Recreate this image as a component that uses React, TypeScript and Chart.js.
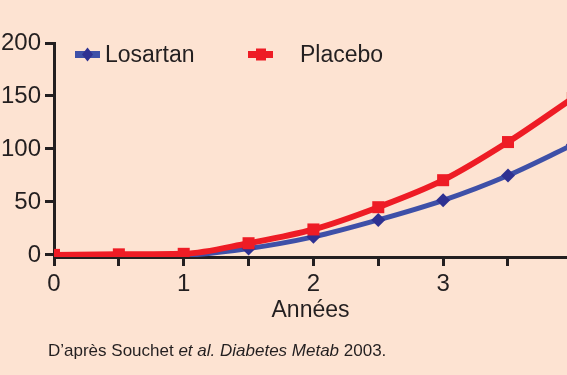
import React, { useEffect, useRef } from "react";
import { Chart, registerables } from "chart.js";

Chart.register(...registerables);

const years = [0, 0.5, 1, 1.5, 2, 2.5, 3, 3.5, 4];
const losartan = [-1.5, -1.5, -0.5, 6, 17, 33, 51.5, 75, 104];
const placebo = [0, 0.5, 1, 11, 24, 45, 70.5, 106.5, 148];
const yTicks = [0, 50, 100, 150, 200];
const xTicks = [0, 0.5, 1, 1.5, 2, 2.5, 3, 3.5];
const seriesNames = ["Losartan", "Placebo"];
const xTitle = "Années";

const BG = "#FDE3D2";
const INK = "#231F20";
const RED = "#EE1C25";
const BLUE_LINE = "#3E50A8";
const BLUE_MARK = "#2E3192";
const FONT = '"Liberation Sans", Arial, sans-serif';

const legendPlugin = {
  id: "customLegend",
  afterDraw(chart: any) {
    const ctx = chart.ctx as CanvasRenderingContext2D;
    ctx.save();
    const y = 54.5;
    // Losartan
    ctx.fillStyle = BLUE_LINE;
    ctx.fillRect(75, y - 3.5, 25, 7);
    ctx.fillStyle = BLUE_MARK;
    ctx.beginPath();
    ctx.moveTo(87.5, y - 7);
    ctx.lineTo(93, y);
    ctx.lineTo(87.5, y + 7);
    ctx.lineTo(82, y);
    ctx.closePath();
    ctx.fill();
    // Placebo
    ctx.fillStyle = RED;
    ctx.fillRect(248, y - 3.5, 25, 7);
    ctx.fillRect(256, y - 6, 10, 12);
    ctx.fillStyle = INK;
    ctx.font = "23px " + FONT;
    ctx.textBaseline = "alphabetic";
    ctx.textAlign = "left";
    ctx.fillText(seriesNames[0], 105, 61.5);
    ctx.fillText(seriesNames[1], 300, 61.5);
    ctx.restore();
  },
};

export default function App() {
  const ref = useRef<HTMLCanvasElement | null>(null);
  useEffect(() => {
    if (!ref.current) return;
    const chart = new Chart(ref.current, {
      type: "line",
      data: {
        datasets: [
          {
            label: seriesNames[1],
            data: years.map((x, i) => ({ x, y: placebo[i] })),
            borderColor: RED,
            backgroundColor: RED,
            borderWidth: 6,
            pointStyle: "rect",
            pointRadius: 8.5,
            pointBorderWidth: 0,
            pointBackgroundColor: RED,
            cubicInterpolationMode: "monotone",
          },
          {
            label: seriesNames[0],
            data: years.map((x, i) => ({ x, y: losartan[i] })),
            borderColor: BLUE_LINE,
            backgroundColor: BLUE_MARK,
            borderWidth: 5,
            pointStyle: "rectRot",
            pointRadius: 7,
            pointBorderWidth: 0,
            pointBackgroundColor: BLUE_MARK,
            cubicInterpolationMode: "monotone",
          },
        ],
      },
      options: {
        animation: false,
        responsive: false,
        maintainAspectRatio: false,
        layout: { autoPadding: false, padding: { top: 43, right: 0, bottom: 40, left: 0 } },
        plugins: { legend: { display: false }, tooltip: { enabled: false } },
        scales: {
          x: {
            type: "linear",
            min: 0,
            max: 3.955,
            afterBuildTicks: (scale: any) => {
              scale.ticks = xTicks.map((v) => ({ value: v }));
            },
            afterFit: (scale: any) => {
              scale.height = 78;
            },
            ticks: {
              autoSkip: false,
              maxRotation: 0,
              padding: 4,
              color: INK,
              font: { family: FONT, size: 24 },
              callback: (v: any) => (Number.isInteger(Number(v)) ? String(v) : ""),
            },
            grid: {
              drawOnChartArea: false,
              drawTicks: true,
              tickLength: 9,
              tickWidth: 3,
              tickColor: INK,
            },
            border: { display: true, color: INK, width: 3 },
            title: {
              display: true,
              text: xTitle,
              color: INK,
              font: { family: FONT, size: 23 },
              padding: { top: 0, bottom: 11 },
            },
          },
          y: {
            type: "linear",
            min: -2,
            max: 200,
            afterBuildTicks: (scale: any) => {
              scale.ticks = yTicks.map((v) => ({ value: v }));
            },
            afterFit: (scale: any) => {
              scale.width = 54;
            },
            ticks: {
              padding: 4,
              color: INK,
              font: { family: FONT, size: 24 },
            },
            grid: {
              drawOnChartArea: false,
              drawTicks: true,
              tickLength: 9,
              tickWidth: 3,
              tickColor: INK,
            },
            border: { display: true, color: INK, width: 3 },
          },
        },
      },
      plugins: [legendPlugin],
    });
    return () => chart.destroy();
  }, []);

  return (
    <div
      style={{
        position: "absolute",
        left: 0,
        top: 0,
        width: 567,
        height: 375,
        background: BG,
        overflow: "hidden",
      }}
    >
      <canvas ref={ref} width={567} height={375} style={{ display: "block" }} />
      <div
        style={{
          position: "absolute",
          left: 48,
          top: 341,
          fontFamily: FONT,
          fontSize: 17,
          lineHeight: "20px",
          color: INK,
          whiteSpace: "nowrap",
        }}
      >
        D’après Souchet <i>et al.</i> <i>Diabetes Metab</i> 2003.
      </div>
    </div>
  );
}
